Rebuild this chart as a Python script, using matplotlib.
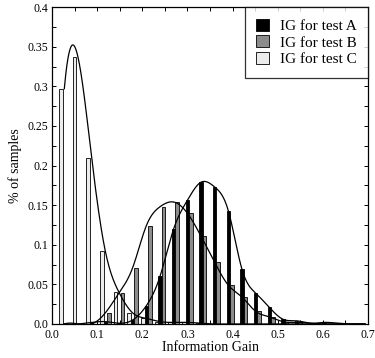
import numpy as np
import matplotlib
matplotlib.use("Agg")
import matplotlib.pyplot as plt
from matplotlib.patches import Patch
from matplotlib.ticker import MultipleLocator, FixedLocator, FixedFormatter

# ---- data ----
bin_start = 0.027
bin_step = 0.0303
ig_a = [0.0, 0.0, 0.002, 0.003, 0.001, 0.005, 0.023, 0.060, 0.120, 0.156, 0.179, 0.173,
        0.143, 0.069, 0.039, 0.021, 0.006, 0.004, 0.001, 0.002, 0.001, 0.0, 0.0]
ig_b = [0.0, 0.0, 0.0, 0.014, 0.039, 0.071, 0.124, 0.148, 0.154, 0.140, 0.111, 0.078,
        0.049, 0.034, 0.016, 0.009, 0.003, 0.002, 0.001, 0.0, 0.0, 0.0, 0.0]
ig_c = [0.297, 0.337, 0.210, 0.092, 0.040, 0.014, 0.007, 0.003, 0.002, 0.002, 0.001, 0.0,
        0.0, 0.0, 0.0, 0.0, 0.0, 0.0, 0.0, 0.0, 0.0, 0.0, 0.0]
labels = ["IG for test A", "IG for test B", "IG for test C"]
colors = ["#000000", "#8c8c8c", "#ececec"]
xtick_vals = [0.0, 0.1, 0.2, 0.3, 0.4, 0.5, 0.6, 0.7]
xtick_labels = ["0.0", "0.1", "0.2", "0.3", "0.4", "0.5", "0.6", "0.7"]
ytick_vals = [0.0, 0.05, 0.1, 0.15, 0.2, 0.25, 0.3, 0.35, 0.4]
ytick_labels = ["0.0", "0.05", "0.1", "0.15", "0.2", "0.25", "0.3", "0.35", "0.4"]


def spline_nak(x, y, xs):
    """Cubic spline with not-a-knot end conditions."""
    x = np.asarray(x, float); y = np.asarray(y, float)
    n = len(x)
    h = np.diff(x)
    A = np.zeros((n, n)); r = np.zeros(n)
    A[0, 0] = -h[1]; A[0, 1] = h[0] + h[1]; A[0, 2] = -h[0]
    A[-1, -3] = -h[-1]; A[-1, -2] = h[-2] + h[-1]; A[-1, -1] = -h[-2]
    for i in range(1, n - 1):
        A[i, i - 1] = h[i - 1]
        A[i, i] = 2 * (h[i - 1] + h[i])
        A[i, i + 1] = h[i]
        r[i] = 3 * ((y[i + 1] - y[i]) / h[i] - (y[i] - y[i - 1]) / h[i - 1])
    c = np.linalg.solve(A, r)
    b = np.zeros(n - 1); d = np.zeros(n - 1)
    for i in range(n - 1):
        b[i] = (y[i + 1] - y[i]) / h[i] - h[i] * (2 * c[i] + c[i + 1]) / 3
        d[i] = (c[i + 1] - c[i]) / (3 * h[i])
    idx = np.clip(np.searchsorted(x, xs) - 1, 0, n - 2)
    dx = xs - x[idx]
    return y[idx] + b[idx] * dx + c[idx] * dx ** 2 + d[idx] * dx ** 3


plt.rcParams['font.family'] = ['Liberation Serif', 'DejaVu Serif']

fig = plt.figure(figsize=(3.75, 3.58), dpi=100)
ax = fig.add_axes([0.139, 0.095, 0.842, 0.885])

centers = bin_start + bin_step * np.arange(len(ig_a))
w = 0.0078
series = [ig_a, ig_b, ig_c]
offsets = [0.0, w, -w]
for vals, off, col, lab in zip(series, offsets, colors, labels):
    ax.bar(centers + off, vals, width=w, color=col, edgecolor='black',
           linewidth=0.6, label=lab, zorder=2)

xs = np.linspace(centers[0], centers[-1], 600)
for vals in series:
    ax.plot(xs, spline_nak(centers, vals, xs), color='black', lw=0.9, zorder=3)

ax.set_xlim(0, 0.7)
ax.set_ylim(0, 0.4)
ax.xaxis.set_major_locator(FixedLocator(xtick_vals))
ax.xaxis.set_major_formatter(FixedFormatter(xtick_labels))
ax.yaxis.set_major_locator(FixedLocator(ytick_vals))
ax.yaxis.set_major_formatter(FixedFormatter(ytick_labels))
ax.xaxis.set_minor_locator(MultipleLocator(0.05))
ax.yaxis.set_minor_locator(MultipleLocator(0.025))
ax.tick_params(which='both', direction='in', top=True, right=True, length=3,
               width=0.7, labelsize=8.5)
ax.tick_params(axis='x', pad=3.5)
ax.tick_params(axis='y', pad=3)
for s in ax.spines.values():
    s.set_linewidth(0.9)

ax.set_xlabel("Information Gain", fontsize=10, labelpad=0)
ax.set_ylabel("% of samples", fontsize=10, labelpad=4)

handles = [Patch(facecolor=c, edgecolor='black', linewidth=0.6) for c in colors]
leg = ax.legend(handles, labels, loc='upper right', fontsize=11, frameon=True,
                fancybox=False, borderaxespad=0, handlelength=0.85, handleheight=0.85,
                handletextpad=0.7, labelspacing=0.15, borderpad=0.75)
leg.get_frame().set_edgecolor('black')
leg.get_frame().set_linewidth(0.9)

fig.savefig("out.png", dpi=100)
